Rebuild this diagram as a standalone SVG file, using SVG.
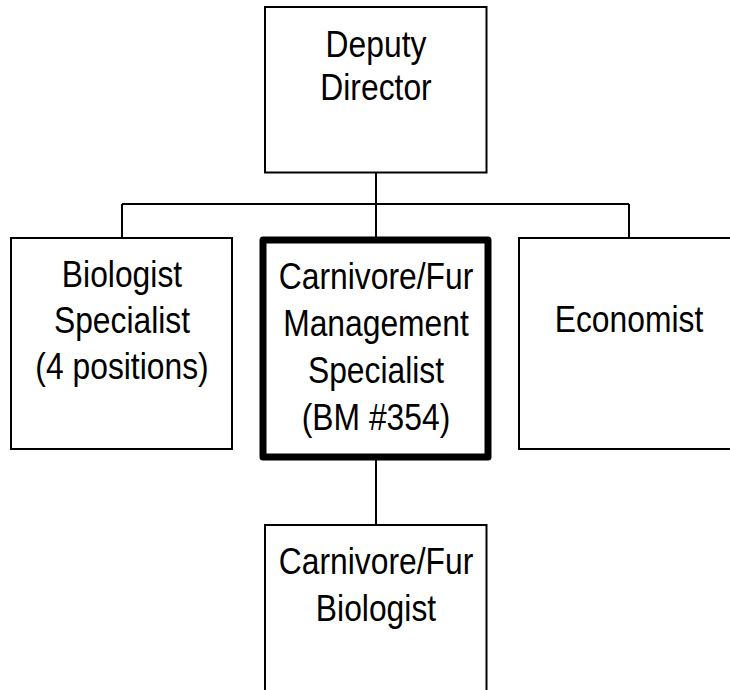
<svg xmlns="http://www.w3.org/2000/svg" width="730" height="690" viewBox="0 0 730 690">
<style>
.box{fill:#fff;stroke:#000;stroke-width:2}
.thick{fill:#fff;stroke:#000;stroke-width:7;stroke-linejoin:round}
.conn{fill:none;stroke:#000;stroke-width:2}
text{font-family:"Liberation Sans",Arial,sans-serif;font-size:37px;fill:#000;text-anchor:middle}
</style>
<rect width="730" height="690" fill="#fff"/>
<g id="connectors">
<path class="conn" d="M376,173 V240 M122,204 H629 M122,204 V238 M629,204 V238 M376,457 V525"/>
</g>
<g id="deputy-director">
<rect class="box" x="265" y="7" width="221.5" height="165.5"/>
<g transform="translate(376 0) scale(0.86 1)">
<text x="0" y="57">Deputy</text>
<text x="0" y="100">Director</text>
</g>
</g>
<g id="biologist-specialist">
<rect class="box" x="11" y="238" width="221" height="211"/>
<g transform="translate(122 0) scale(0.86 1)">
<text x="0" y="287">Biologist</text>
<text x="0" y="333">Specialist</text>
<text x="0" y="379">(4 positions)</text>
</g>
</g>
<g id="carnivore-fur-management-specialist">
<rect class="thick" x="263" y="240" width="225" height="217"/>
<g transform="translate(376 0) scale(0.86 1)">
<text x="0" y="289">Carnivore/Fur</text>
<text x="0" y="336">Management</text>
<text x="0" y="383">Specialist</text>
<text x="0" y="430">(BM #354)</text>
</g>
</g>
<g id="economist">
<rect class="box" x="519" y="238" width="220" height="211"/>
<g transform="translate(629 0) scale(0.86 1)">
<text x="0" y="332">Economist</text>
</g>
</g>
<g id="carnivore-fur-biologist">
<rect class="box" x="265" y="525" width="221.5" height="175"/>
<g transform="translate(376 0) scale(0.86 1)">
<text x="0" y="574">Carnivore/Fur</text>
<text x="0" y="621">Biologist</text>
</g>
</g>
</svg>
